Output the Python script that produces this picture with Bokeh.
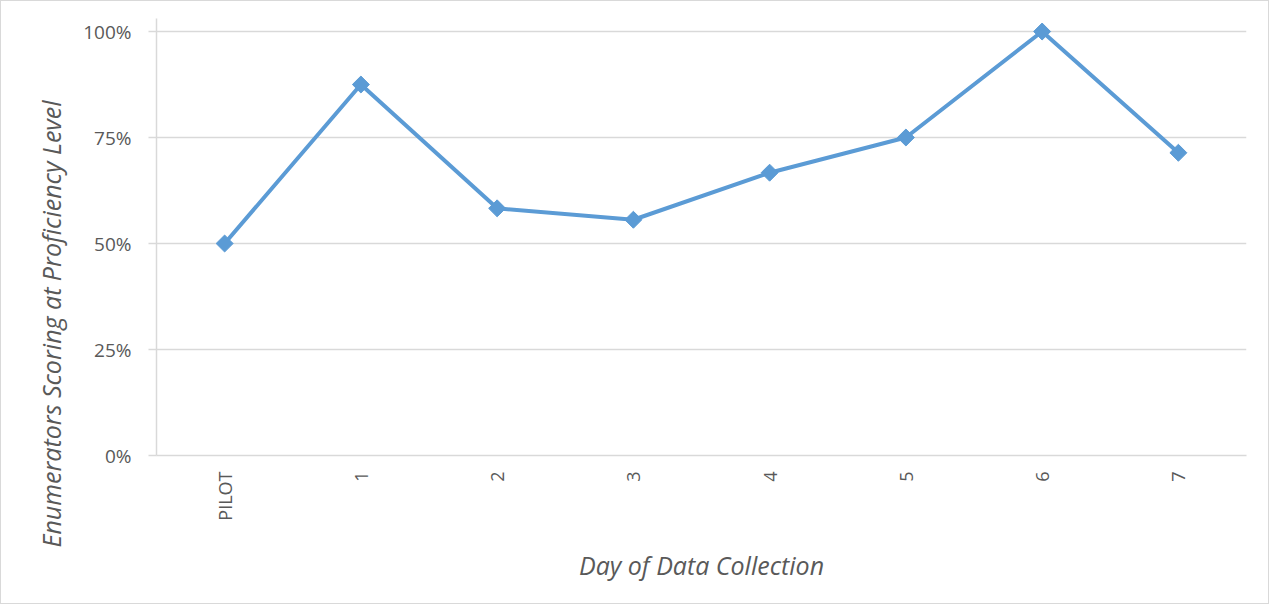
import math
from bokeh.plotting import figure
from bokeh.models import FactorRange, Range1d, FixedTicker, NumeralTickFormatter, Title
from bokeh.embed import file_html
from bokeh.resources import INLINE

days = ["PILOT", "1", "2", "3", "4", "5", "6", "7"]
share = [0.50, 0.875, 0.583, 0.556, 0.667, 0.75, 1.00, 0.714]
y_ticks = [0, 0.25, 0.5, 0.75, 1.0]

GRID = "#d9d9d9"
TXT = "#595959"
BLUE = "#5b9bd5"
FONT = "Open Sans"

p = figure(width=1269, height=604, x_range=FactorRange(*days, range_padding=0),
           y_range=Range1d(0, 1.0307), output_backend="svg", toolbar_location=None,
           min_border_left=155, min_border_right=24, min_border_top=17, min_border_bottom=150)
p.styles = {"border": "1px solid #d9d9d9"}
p.outline_line_color = None
p.background_fill_color = "white"
p.border_fill_color = "white"

p.line(days, share, line_color=BLUE, line_width=4)
p.scatter(days, share, marker="square", size=12, angle=math.pi / 4,
          fill_color=BLUE, line_color=BLUE)

p.xgrid.grid_line_color = None
p.ygrid.grid_line_color = GRID
p.ygrid.grid_line_width = 1.5
p.ygrid.ticker = FixedTicker(ticks=y_ticks)

ya = p.yaxis[0]
ya.ticker = FixedTicker(ticks=y_ticks)
ya.formatter = NumeralTickFormatter(format="0%")
ya.axis_line_color = GRID
ya.axis_line_width = 1.5
ya.major_tick_line_color = GRID
ya.major_tick_line_width = 1.5
ya.major_tick_out = 8
ya.major_tick_in = 0
ya.minor_tick_line_color = None
ya.major_label_standoff = 17
ya.major_label_text_font = FONT
ya.major_label_text_font_size = "19px"
ya.major_label_text_color = TXT

xa = p.xaxis[0]
xa.axis_line_color = GRID
xa.axis_line_width = 1.5
xa.major_tick_line_color = None
xa.major_tick_out = 0
xa.major_tick_in = 0
xa.major_label_orientation = math.pi / 2
xa.major_label_standoff = 16
xa.major_label_text_font = FONT
xa.major_label_text_font_size = "18px"
xa.major_label_text_color = TXT
xa.axis_label = "Day of Data Collection"
xa.axis_label_text_font = FONT
xa.axis_label_text_font_style = "italic"
xa.axis_label_text_font_size = "25px"
xa.axis_label_text_color = TXT
xa.axis_label_standoff = 24

ylab = Title(text="Enumerators Scoring at Proficiency Level", align="left", offset=-92,
             text_font=FONT, text_font_style="italic", text_font_size="25px",
             text_color=TXT, standoff=26)
p.add_layout(ylab, "left")

open("out.html", "w").write(file_html(p, INLINE))
